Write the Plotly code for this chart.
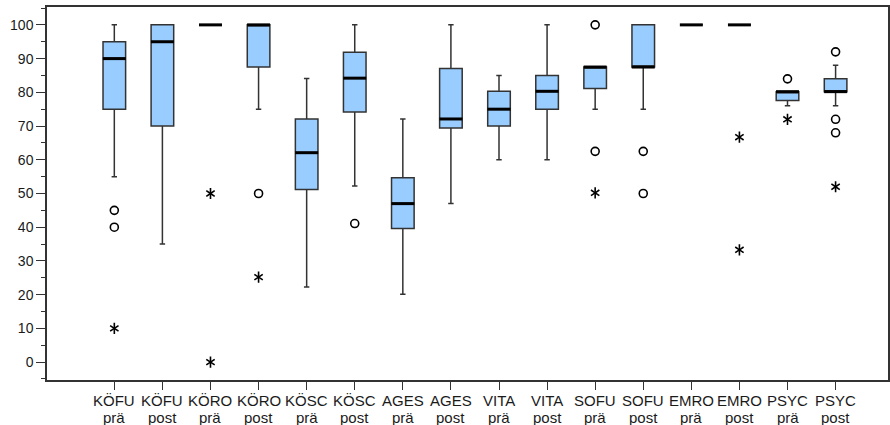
import plotly.graph_objects as go

# Scales and measurement phases (pre/post)
scales = ["KÖFU", "KÖFU", "KÖRO", "KÖRO", "KÖSC", "KÖSC", "AGES", "AGES",
          "VITA", "VITA", "SOFU", "SOFU", "EMRO", "EMRO", "PSYC", "PSYC"]
phases = ["prä", "post"] * 8

# Five-number summaries per group
lower_whisker = [55, 35, 100, 75, 22.3, 52.2, 20.1, 47, 60, 60, 75, 75, 100, 100, 76, 76]
q1 = [75, 70, 100, 87.5, 51.2, 74.2, 39.6, 69.4, 70, 75, 81.1, 87.5, 100, 100, 77.6, 80.2]
median = [90, 95, 100, 100, 62.1, 84.2, 47, 72.1, 75, 80.3, 87.5, 87.5, 100, 100, 80.2, 80.2]
q3 = [95, 100, 100, 100, 72.1, 91.9, 54.7, 87.1, 80.3, 85, 87.5, 100, 100, 100, 80.2, 84]
upper_whisker = [100, 100, 100, 100, 84.1, 100, 72.1, 100, 85, 100, 87.5, 100, 100, 100, 80.2, 88]

# Outliers (open circles) and extreme values (stars), by group index
outlier_group = [0, 0, 3, 5, 10, 10, 11, 11, 14, 15, 15, 15]
outlier_value = [45, 40, 50, 41.1, 100, 62.5, 62.5, 50, 84, 92, 72, 68]
extreme_group = [0, 2, 2, 3, 10, 13, 13, 14, 15]
extreme_value = [10, 50, 0, 25.2, 50.2, 66.7, 33.3, 72, 52]

positions = list(range(len(scales)))

FONT = "Liberation Sans, Arial, sans-serif"
TXT = "#1a1a1a"
BOX_W = 0.47
INK = "#000000"

fig = go.Figure()

fig.add_trace(go.Box(
    x=positions,
    q1=q1, median=median, q3=q3,
    lowerfence=lower_whisker, upperfence=upper_whisker,
    width=BOX_W,
    whiskerwidth=0.24,
    boxpoints=False,
    fillcolor="#99ccff",
    line=dict(color="#333333", width=1.5),
    hoverinfo="skip",
    showlegend=False,
))

# Heavy median bars (line-ew marker spans 1.4 x size in pixels)
fig.add_trace(go.Scatter(
    x=positions, y=median, mode="markers",
    marker=dict(symbol="line-ew", size=16.4,
                line=dict(color=INK, width=3)),
    hoverinfo="skip", showlegend=False,
))

fig.add_trace(go.Scatter(
    x=outlier_group, y=outlier_value, mode="markers",
    marker=dict(symbol="circle-open", size=8, color=INK,
                line=dict(color=INK, width=1.6)),
    hoverinfo="skip", showlegend=False,
))

# Extreme values: two overlaid three-armed marks form a six-armed star
for sym in ("y-up-open", "y-down-open"):
    fig.add_trace(go.Scatter(
        x=extreme_group, y=extreme_value, mode="markers",
        marker=dict(symbol=sym, size=7, color=INK,
                    line=dict(color=INK, width=1.6)),
        hoverinfo="skip", showlegend=False,
    ))

# Two-row category labels (scale name, then phase), tightly spaced
for row, (labels, shift) in enumerate(((scales, -10.5), (phases, -27.5))):
    for pos, lab in zip(positions, labels):
        fig.add_annotation(
            x=pos, xref="x", y=0, yref="paper",
            text=lab, showarrow=False, borderpad=0,
            xanchor="center", yanchor="top", yshift=shift,
            font=dict(family=FONT, size=15, color=TXT),
        )

fig.update_layout(
    width=890, height=425,
    margin=dict(l=47, r=2, t=7, b=45),
    paper_bgcolor="white", plot_bgcolor="white",
    font=dict(family=FONT, size=14, color=TXT),
    xaxis=dict(
        range=[-1.40, 16.09],
        tickmode="array", tickvals=positions, showticklabels=False,
        ticks="outside", ticklen=8, tickwidth=1.3, tickcolor="#333333",
        showline=True, linecolor="#333333", linewidth=1.5, mirror=True,
        showgrid=False, zeroline=False, automargin=False,
    ),
    yaxis=dict(
        range=[-5.3, 105.3],
        tickmode="array", tickvals=list(range(0, 101, 10)),
        ticks="outside", ticklen=9, tickwidth=1.3, tickcolor="#333333",
        minor=dict(tickmode="linear", tick0=0, dtick=5, ticks="outside",
                   ticklen=4, tickwidth=1.3, tickcolor="#333333"),
        showline=True, linecolor="#333333", linewidth=1.5, mirror=True,
        showgrid=False, zeroline=False, automargin=False,
        tickfont=dict(family=FONT, size=14, color=TXT),
    ),
)

fig.write_html("out.html")
